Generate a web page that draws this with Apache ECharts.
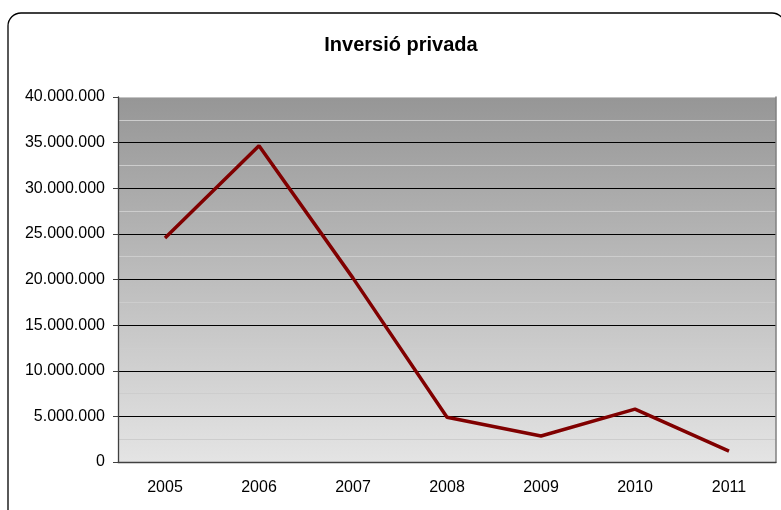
<!DOCTYPE html>
<html>
<head>
<meta charset="utf-8">
<script src="https://cdn.jsdelivr.net/npm/echarts@6/dist/echarts.min.js"></script>
<style>
  html, body { margin: 0; padding: 0; background: #fff; }
  #chart { width: 781px; height: 510px; }
</style>
</head>
<body>
<div id="chart"></div>
<script>
const years = ['2005', '2006', '2007', '2008', '2009', '2010', '2011'];
const inversio = [24550000, 34650000, 20150000, 4900000, 2850000, 5800000, 1200000];
const yTicks = [0, 5000000, 10000000, 15000000, 20000000, 25000000, 30000000, 35000000, 40000000];

const font = 'Liberation Sans, Arial, sans-serif';

function dotted(v) {
  return String(Math.round(v)).replace(/\B(?=(\d{3})+(?!\d))/g, '.');
}

const chart = echarts.init(document.getElementById('chart'));

chart.setOption({
  animation: false,
  backgroundColor: '#fff',
  title: {
    text: 'Inversió privada',
    left: 396,
    textAlign: 'center',
    top: 30,
    textStyle: { fontFamily: font, fontSize: 20, fontWeight: 'bold', color: '#000' }
  },
  graphic: [{
    type: 'rect',
    shape: { x: 8, y: 13, width: 777, height: 520, r: 13 },
    style: { fill: 'none', stroke: '#000', lineWidth: 1.3 },
    z: 100
  }],
  grid: {
    left: 118, right: 5, top: 97, bottom: 48,
    show: true,
    borderWidth: 0,
    backgroundColor: {
      type: 'linear', x: 0, y: 0, x2: 0, y2: 1,
      colorStops: [
        { offset: 0, color: '#969696' },
        { offset: 1, color: '#e4e4e4' }
      ]
    }
  },
  xAxis: {
    type: 'category',
    data: years,
    boundaryGap: true,
    axisLine: { lineStyle: { color: '#404040', width: 1.3 } },
    axisTick: { length: 5, lineStyle: { color: '#404040' } },
    axisLabel: { fontFamily: font, fontSize: 16, color: '#000', margin: 18 },
    splitLine: { show: false }
  },
  yAxis: [{
    type: 'value',
    min: yTicks[0],
    max: yTicks[yTicks.length - 1],
    interval: yTicks[1] - yTicks[0],
    axisLine: { show: true, lineStyle: { color: '#404040', width: 1.3 } },
    axisTick: { show: true, length: 5, lineStyle: { color: '#404040' } },
    axisLabel: { fontFamily: font, fontSize: 16, color: '#000', margin: 13, formatter: dotted },
    splitLine: {
      show: true,
      lineStyle: {
        color: ['#000', '#000', '#000', '#000', '#000', '#000', '#000', '#000', '#c4c4c4'],
        width: 1
      }
    },
    minorTick: { show: false, splitNumber: 2 },
    minorSplitLine: { show: true, lineStyle: { color: '#cdcdcd', width: 1 } }
  }, {
    type: 'value',
    position: 'right',
    min: yTicks[0],
    max: yTicks[yTicks.length - 1],
    interval: yTicks[1] - yTicks[0],
    axisLine: { show: true, lineStyle: { color: '#808080', width: 1.5 } },
    axisTick: { show: false },
    axisLabel: { show: false },
    splitLine: { show: false }
  }],
  series: [{
    type: 'line',
    data: inversio,
    showSymbol: false,
    symbol: 'none',
    lineStyle: { color: '#800000', width: 3.5 },
    z: 10
  }]
});
</script>
</body>
</html>
